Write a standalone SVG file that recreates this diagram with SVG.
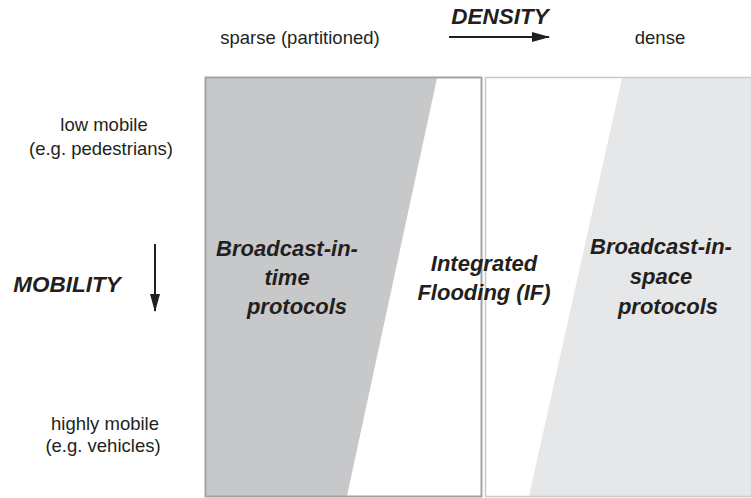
<svg xmlns="http://www.w3.org/2000/svg" width="751" height="498" viewBox="0 0 751 498">
  <defs>
    <style>
      .axis { font-family: "Liberation Sans", Arial, sans-serif; font-size: 18.5px; fill: #231f20; text-anchor: middle; }
      .title { font-family: "Liberation Sans", Arial, sans-serif; font-size: 22.5px; font-weight: bold; font-style: italic; fill: #231f20; text-anchor: middle; }
      .label { font-family: "Liberation Sans", Arial, sans-serif; font-size: 22px; font-weight: bold; font-style: italic; fill: #231f20; text-anchor: middle; }
      .arrow { stroke: #231f20; stroke-width: 2; fill: none; }
    </style>
    <marker id="head" viewBox="0 0 18 10" refX="17" refY="5" markerWidth="18" markerHeight="10" markerUnits="userSpaceOnUse" orient="auto">
      <path d="M0,0 L18,5 L0,10 Z" fill="#231f20"/>
    </marker>
  </defs>
  <rect width="751" height="498" fill="#ffffff"/>

  <!-- sparse region: broadcast-in-time -->
  <g id="sparse-region">
    <polygon points="206,78 437,78 347,496 206,496" fill="#c7c8ca"/>
    <rect x="205.5" y="77.5" width="276" height="419" fill="none" stroke="#a3a3a5" stroke-width="2"/>
  </g>

  <!-- dense region: broadcast-in-space -->
  <g id="dense-region">
    <polygon points="622,78 752,78 752,496 529,496" fill="#e6e7e8"/>
    <rect x="485.5" y="77.5" width="270" height="419" fill="none" stroke="#c8c9cb" stroke-width="1.5"/>
  </g>

  <!-- axis arrows -->
  <g id="connectors">
    <line class="arrow" x1="449" y1="37" x2="549" y2="37" marker-end="url(#head)"/>
    <line class="arrow" x1="155" y1="244" x2="155" y2="311" marker-end="url(#head)"/>
  </g>

  <g id="density-axis">
    <text class="title" x="500" y="24">DENSITY</text>
    <text class="axis" x="300" y="44">sparse (partitioned)</text>
    <text class="axis" x="660" y="44">dense</text>
  </g>

  <g id="mobility-axis">
    <text class="title" x="67" y="292">MOBILITY</text>
    <text class="axis" x="104" y="131">low mobile</text>
    <text class="axis" x="101" y="155">(e.g. pedestrians)</text>
    <text class="axis" x="105" y="430">highly mobile</text>
    <text class="axis" x="103" y="452">(e.g. vehicles)</text>
  </g>

  <g id="broadcast-in-time">
    <text class="label" x="287" y="256">Broadcast-in-</text>
    <text class="label" x="287" y="285">time</text>
    <text class="label" x="297" y="314">protocols</text>
  </g>

  <g id="integrated-flooding">
    <text class="label" x="484" y="271">Integrated</text>
    <text class="label" x="484" y="300">Flooding (IF)</text>
  </g>

  <g id="broadcast-in-space">
    <text class="label" x="661" y="254">Broadcast-in-</text>
    <text class="label" x="661" y="284">space</text>
    <text class="label" x="668" y="314">protocols</text>
  </g>
</svg>
